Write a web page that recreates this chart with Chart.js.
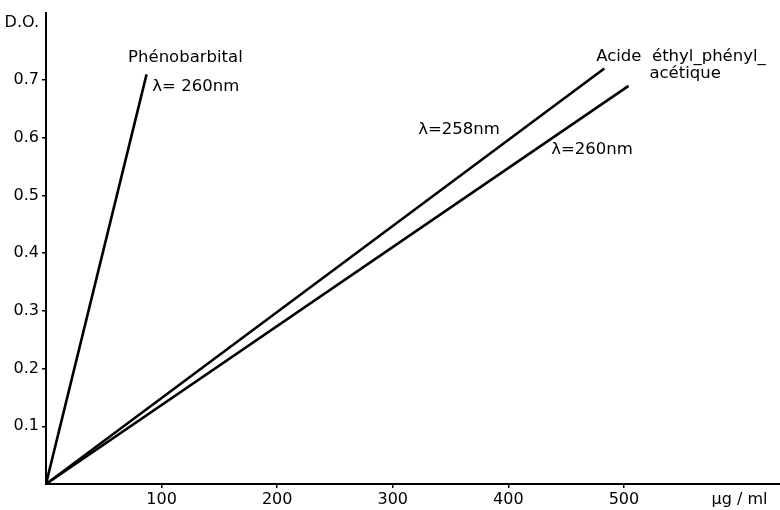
<!DOCTYPE html>
<html>
<head>
<meta charset="utf-8">
<script src="https://cdn.jsdelivr.net/npm/chart.js@4.4.0/dist/chart.umd.min.js"></script>
<style>
  body { margin: 0; background: #fff; }
  #wrap { width: 780px; height: 510px; }
</style>
</head>
<body>
<div id="wrap"><canvas id="chart"></canvas></div>
<script>
// concentrations (µg/ml) and optical densities
const phenoX = [0, 87];
const phenoY = [0, 0.71];
const acid258X = [0, 483];
const acid258Y = [0, 0.72];
const acid260X = [0, 504];
const acid260Y = [0, 0.69];

const xTicks = [100, 200, 300, 400, 500, 600];
const xTickLabels = ['100', '200', '300', '400', '500', 'µg / ml'];
const yTicks = [0.1, 0.2, 0.3, 0.4, 0.5, 0.6, 0.7, 0.8];
const yTickLabels = ['0.1', '0.2', '0.3', '0.4', '0.5', '0.6', '0.7', 'D.O.'];

const FONT = '"DejaVu Sans", sans-serif';

const toPoints = (xs, ys) => xs.map((x, i) => ({ x: x, y: ys[i] }));

const lineStyle = {
    showLine: true,
    borderColor: '#000',
    borderWidth: 2.6,
    pointRadius: 0,
    fill: false
};

// text labels placed next to the curves
const notes = [
    { text: 'Phénobarbital', x: 71, y: 0.739 },
    { text: 'λ= 260nm', x: 92, y: 0.689 },
    { text: 'Acide  éthyl_phényl_', x: 476, y: 0.740 },
    { text: 'acétique', x: 522, y: 0.711 },
    { text: 'λ=258nm', x: 322, y: 0.614 },
    { text: 'λ=260nm', x: 437, y: 0.579 }
];

const notesPlugin = {
    id: 'notes',
    afterDatasetsDraw(chart) {
        const ctx = chart.ctx;
        const xs = chart.scales.x;
        const ys = chart.scales.y;
        ctx.save();
        ctx.fillStyle = '#000';
        ctx.font = '16.5px ' + FONT;
        ctx.textAlign = 'left';
        ctx.textBaseline = 'middle';
        notes.forEach(n => {
            ctx.fillText(n.text, xs.getPixelForValue(n.x), ys.getPixelForValue(n.y));
        });
        ctx.restore();
    }
};

new Chart(document.getElementById('chart'), {
    type: 'scatter',
    data: {
        datasets: [
            Object.assign({ label: 'Phénobarbital 260nm', data: toPoints(phenoX, phenoY) }, lineStyle),
            Object.assign({ label: 'Acide 258nm', data: toPoints(acid258X, acid258Y) }, lineStyle),
            Object.assign({ label: 'Acide 260nm', data: toPoints(acid260X, acid260Y) }, lineStyle)
        ]
    },
    options: {
        responsive: true,
        maintainAspectRatio: false,
        animation: false,
        layout: { padding: { top: 12, right: 0, left: 0, bottom: 0 } },
        plugins: {
            legend: { display: false },
            tooltip: { enabled: false }
        },
        scales: {
            x: {
                type: 'linear',
                min: 0,
                max: 635,
                afterBuildTicks: scale => { scale.ticks = xTicks.map(v => ({ value: v })); },
                afterFit: scale => { scale.height = 26; },
                border: { color: '#000', width: 2 },
                grid: {
                    drawOnChartArea: false,
                    tickLength: 4,
                    lineWidth: 1.5,
                    color: c => (c.tick && c.tick.value === 600) ? 'rgba(0,0,0,0)' : '#000'
                },
                ticks: {
                    color: '#000',
                    padding: 2,
                    maxRotation: 0,
                    autoSkip: false,
                    font: { family: FONT, size: 16 },
                    callback: v => xTickLabels[xTicks.indexOf(v)]
                }
            },
            y: {
                type: 'linear',
                min: 0,
                max: 0.817,
                afterBuildTicks: scale => { scale.ticks = yTicks.map(v => ({ value: v })); },
                afterFit: scale => { scale.width = 46; },
                border: { color: '#000', width: 2 },
                grid: {
                    drawOnChartArea: false,
                    tickLength: 4,
                    lineWidth: 1.5,
                    color: c => (c.tick && c.tick.value === 0.8) ? 'rgba(0,0,0,0)' : '#000'
                },
                ticks: {
                    color: '#000',
                    padding: 3,
                    autoSkip: false,
                    font: { family: FONT, size: 16 },
                    callback: v => yTickLabels[yTicks.indexOf(v)]
                }
            }
        }
    },
    plugins: [notesPlugin]
});
</script>
</body>
</html>
